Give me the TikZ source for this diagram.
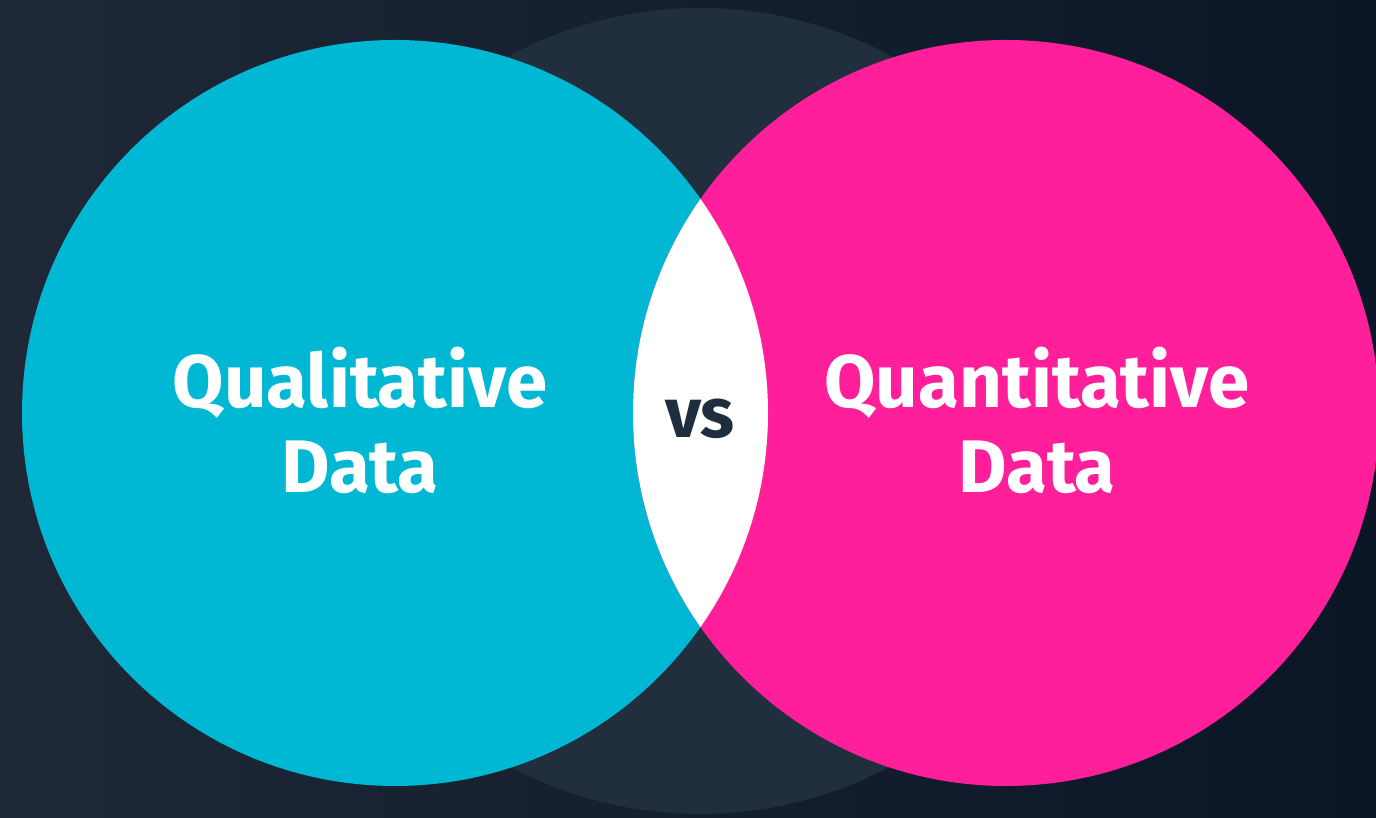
\documentclass[tikz,border=0pt]{standalone}
\usepackage{fontspec}
\setmainfont{Fira Sans}
\usepackage{tikz}
\usetikzlibrary{positioning}
\definecolor{bgleft}{HTML}{1E2837}
\definecolor{bgright}{HTML}{0A1626}
\definecolor{ghost}{HTML}{202E3D}
\definecolor{qualcol}{HTML}{00B8D4}
\definecolor{quantcol}{HTML}{FF1F9A}
\definecolor{vscol}{HTML}{1F2E3F}
\tikzset{
	bigtext/.style = {text=white, align=center, font=\fontsize{21.2}{24.2}\selectfont\bfseries},
}

\begin{document}
\begin{tikzpicture}

	\shade[left color=bgleft, right color=bgright] (0,0) rectangle (13.76,8.18);
	\useasboundingbox (0,0) rectangle (13.76,8.18);

	\coordinate (mid) at (7.00,4.07);
	\coordinate (qual) at (3.95,4.05);
	\coordinate (quant) at (10.06,4.05);

	\fill[ghost] (mid) circle (4.03);
	\fill[qualcol] (qual) circle (3.73);
	\fill[quantcol] (quant) circle (3.73);
	\begin{scope}
		\clip (qual) circle (3.73);
		\fill[white] (quant) circle (3.73);
	\end{scope}

	\node[bigtext] (qualtext) at (3.60,3.98) {Qualitative\\Data};
	\node[bigtext] (quanttext) at (10.37,3.98) {Quantitative\\Data};
	\node[text=vscol, font=\fontsize{20}{22}\selectfont\bfseries] (vs) at (7.00,3.99) {vs};

\end{tikzpicture}
\end{document}
